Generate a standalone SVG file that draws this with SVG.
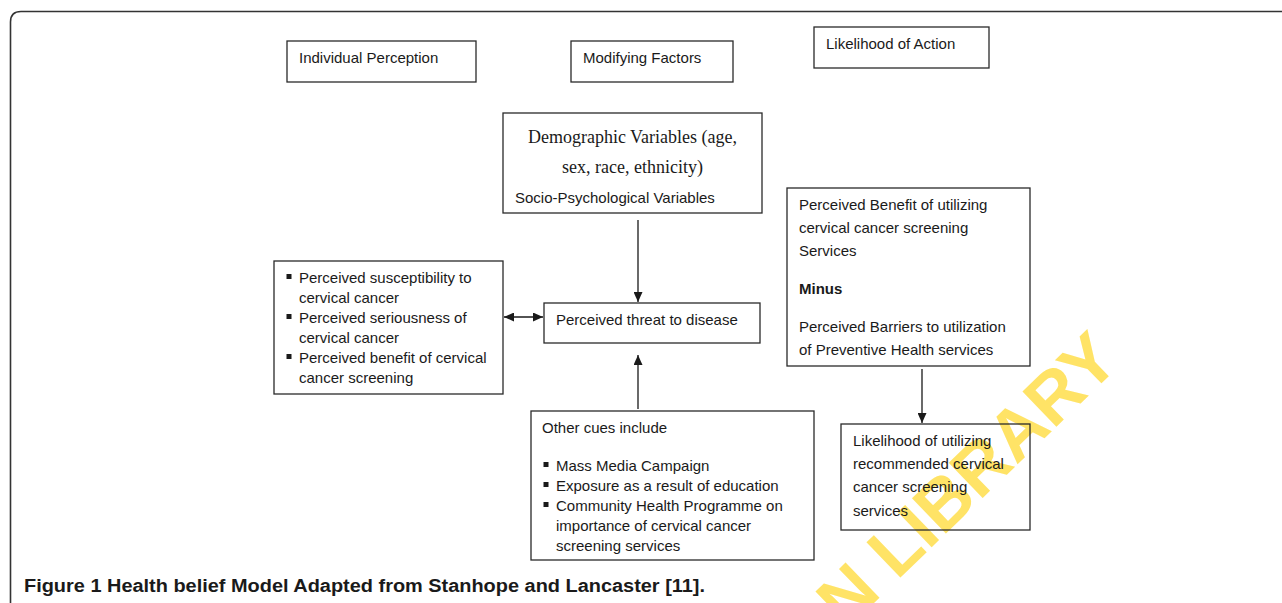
<svg xmlns="http://www.w3.org/2000/svg" width="1282" height="603" viewBox="0 0 1282 603">
<style>
.box{fill:none;stroke:#2a2a2a;stroke-width:1.3}
.t{font-family:"Liberation Sans",Arial,sans-serif;font-size:15px;fill:#1a1a1a}
.s{font-family:"Liberation Serif","Times New Roman",serif;font-size:18px;fill:#1a1a1a}
.b{font-weight:bold}
.bul{fill:#1a1a1a}
.wm{font-family:"Liberation Sans",Arial,sans-serif;font-weight:bold;font-size:71px;fill:#FFE366}
.conn{stroke:#1a1a1a;stroke-width:1.3;fill:none}
</style>
<defs>
<marker id="ah" markerUnits="userSpaceOnUse" markerWidth="10" markerHeight="9" refX="10" refY="4.5" orient="auto-start-reverse">
<path d="M0,0 L10,4.5 L0,9 z" fill="#1a1a1a"/>
</marker>
</defs>
<rect width="1282" height="603" fill="#fff"/>
<path d="M10.5,603 L10.5,22 Q10.5,11.5 21,11.5 L1282,11.5" fill="none" stroke="#333" stroke-width="1.6"/>
<text class="wm" transform="translate(846,630) rotate(-44)">N LIBRARY</text>
<g id="individual-perception"><rect class="box" x="287" y="41" width="189" height="41"/><text class="t" x="299" y="63">Individual Perception</text></g>
<g id="modifying-factors"><rect class="box" x="571" y="41" width="162" height="41"/><text class="t" x="583" y="63">Modifying Factors</text></g>
<g id="likelihood-of-action"><rect class="box" x="814" y="27" width="175" height="41"/><text class="t" x="826" y="49">Likelihood of Action</text></g>
<g id="demographic"><rect class="box" x="503" y="113" width="259" height="100"/>
<text class="s" x="632.5" y="143" text-anchor="middle">Demographic Variables (age,</text>
<text class="s" x="632.5" y="173" text-anchor="middle">sex, race, ethnicity)</text>
<text class="t" x="515" y="203">Socio-Psychological Variables</text></g>
<g id="individual-perceptions-list"><rect class="box" x="274" y="261" width="229" height="133"/>
<rect class="bul" x="286.5" y="274" width="5" height="5"/>
<rect class="bul" x="286.5" y="314" width="5" height="5"/>
<rect class="bul" x="286.5" y="354" width="5" height="5"/>
<text class="t" x="299" y="283">Perceived susceptibility to</text>
<text class="t" x="299" y="303">cervical cancer</text>
<text class="t" x="299" y="323">Perceived seriousness of</text>
<text class="t" x="299" y="343">cervical cancer</text>
<text class="t" x="299" y="363">Perceived benefit of cervical</text>
<text class="t" x="299" y="383">cancer screening</text></g>
<g id="perceived-threat"><rect class="box" x="544" y="303" width="216" height="40"/><text class="t" x="556" y="325">Perceived threat to disease</text></g>
<g id="benefit-minus-barriers"><rect class="box" x="787" y="188" width="243" height="178"/>
<text class="t" x="799" y="210">Perceived Benefit of utilizing</text>
<text class="t" x="799" y="233">cervical cancer screening</text>
<text class="t" x="799" y="256">Services</text>
<text class="t b" x="799" y="294">Minus</text>
<text class="t" x="799" y="332">Perceived Barriers to utilization</text>
<text class="t" x="799" y="355">of Preventive Health services</text></g>
<g id="likelihood-utilizing"><rect class="box" x="841" y="424" width="189" height="106"/>
<text class="t" x="853" y="446">Likelihood of utilizing</text>
<text class="t" x="853" y="469">recommended cervical</text>
<text class="t" x="853" y="492">cancer screening</text>
<text class="t" x="853" y="516">services</text></g>
<g id="other-cues"><rect class="box" x="531" y="411" width="283" height="149"/>
<text class="t" x="542" y="433">Other cues include</text>
<rect class="bul" x="543.5" y="462" width="5" height="5"/>
<rect class="bul" x="543.5" y="482" width="5" height="5"/>
<rect class="bul" x="543.5" y="502" width="5" height="5"/>
<text class="t" x="556" y="471">Mass Media Campaign</text>
<text class="t" x="556" y="491">Exposure as a result of education</text>
<text class="t" x="556" y="511">Community Health Programme on</text>
<text class="t" x="556" y="531">importance of cervical cancer</text>
<text class="t" x="556" y="551">screening services</text></g>
<g id="connectors">
<line class="conn" x1="504" y1="317" x2="543" y2="317" marker-start="url(#ah)" marker-end="url(#ah)"/>
<line class="conn" x1="638" y1="220" x2="638" y2="302" marker-end="url(#ah)"/>
<line class="conn" x1="638" y1="409" x2="638" y2="355" marker-end="url(#ah)"/>
<line class="conn" x1="922" y1="369" x2="922" y2="423" marker-end="url(#ah)"/>
</g>
<text x="24" y="592" font-family="'Liberation Sans',Arial,sans-serif" font-size="18" font-weight="bold" fill="#1a1a1a" textLength="681" lengthAdjust="spacingAndGlyphs">Figure 1 Health belief Model Adapted from Stanhope and Lancaster [11].</text>
</svg>
